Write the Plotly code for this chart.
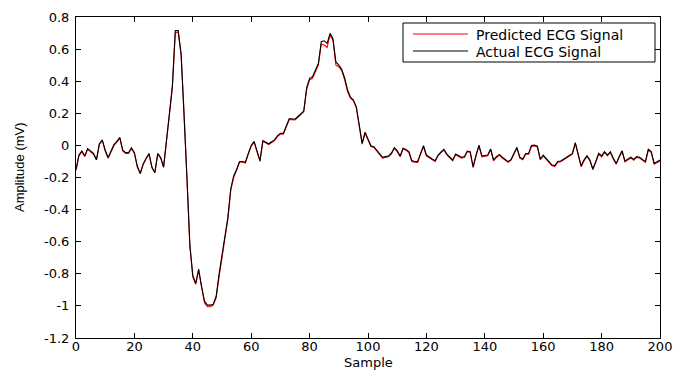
import plotly.graph_objects as go

# Sample index 0..200
samples = list(range(201))

actual = [
    -0.15, -0.06, -0.035, -0.065, -0.02, -0.035, -0.05, -0.09, 0.01, 0.035,
    -0.03, -0.075, -0.03, 0.005, 0.025, 0.05, -0.03, -0.045, -0.045, -0.015,
    -0.045, -0.13, -0.175, -0.115, -0.08, -0.05, -0.135, -0.17, -0.05, -0.075,
    -0.135, 0.02, 0.2, 0.37, 0.715, 0.715, 0.57, 0.22, -0.2, -0.62,
    -0.81, -0.86, -0.77, -0.88, -0.97, -0.995, -0.995, -0.99, -0.94, -0.8,
    -0.68, -0.56, -0.45, -0.27, -0.19, -0.15, -0.1, -0.1, -0.105, -0.05,
    0.0, 0.025, -0.03, -0.095, 0.03, 0.02, 0.01, 0.023, 0.034, 0.06,
    0.075, 0.075, 0.12, 0.165, 0.165, 0.163, 0.18, 0.2, 0.214, 0.36,
    0.418, 0.428, 0.47, 0.51, 0.646, 0.652, 0.636, 0.698, 0.665, 0.52,
    0.5, 0.474, 0.42, 0.345, 0.3, 0.283, 0.24, 0.127, 0.013, 0.082,
    0.04, -0.002, -0.008, -0.03, -0.05, -0.074, -0.07, -0.066, -0.049, -0.014,
    -0.033, -0.066, -0.018, -0.025, -0.039, -0.095, -0.1, -0.101, -0.05, -0.002,
    -0.06, -0.075, -0.085, -0.095, -0.06, -0.04, -0.024, -0.054, -0.075, -0.091,
    -0.054, -0.065, -0.074, -0.07, -0.035, -0.039, -0.133, -0.06, 0.002, -0.066,
    -0.065, -0.06, -0.022, -0.091, -0.07, -0.056, -0.074, -0.09, -0.101, -0.087,
    -0.05, -0.012, -0.074, -0.085, -0.05, -0.05, 0.0, 0.002, -0.005, -0.085,
    -0.06, -0.08, -0.1, -0.122, -0.126, -0.1, -0.097, -0.085, -0.074, -0.066,
    -0.05, 0.017, -0.049, -0.128, -0.09, -0.064, -0.091, -0.147, -0.1, -0.049,
    -0.066, -0.039, -0.06, -0.039, -0.08, -0.112, -0.07, -0.033, -0.097, -0.085,
    -0.074, -0.087, -0.07, -0.074, -0.09, -0.101, -0.024, -0.039, -0.112, -0.1,
    -0.091,
]

predicted = [
    -0.155, -0.065, -0.04, -0.07, -0.025, -0.04, -0.055, -0.09, 0.005, 0.03,
    -0.035, -0.08, -0.035, 0.0, 0.02, 0.045, -0.035, -0.05, -0.05, -0.02,
    -0.05, -0.135, -0.175, -0.12, -0.085, -0.055, -0.14, -0.17, -0.055, -0.08,
    -0.135, 0.015, 0.19, 0.36, 0.7, 0.705, 0.56, 0.21, -0.21, -0.63,
    -0.82, -0.865, -0.78, -0.89, -0.98, -1.005, -1.005, -0.995, -0.95, -0.82,
    -0.7, -0.58, -0.46, -0.28, -0.2, -0.155, -0.105, -0.105, -0.11, -0.055,
    -0.005, 0.02, -0.035, -0.1, 0.025, 0.015, 0.005, 0.018, 0.03, 0.055,
    0.07, 0.07, 0.115, 0.16, 0.16, 0.158, 0.175, 0.195, 0.21, 0.35,
    0.408, 0.418, 0.46, 0.5, 0.63, 0.625, 0.61, 0.69, 0.655, 0.5,
    0.49, 0.465, 0.41, 0.335, 0.295, 0.278, 0.235, 0.12, 0.008, 0.077,
    0.035, -0.007, -0.013, -0.035, -0.055, -0.079, -0.075, -0.071, -0.054, -0.019,
    -0.038, -0.071, -0.023, -0.03, -0.044, -0.1, -0.105, -0.106, -0.055, -0.007,
    -0.065, -0.08, -0.09, -0.1, -0.065, -0.045, -0.029, -0.059, -0.08, -0.096,
    -0.059, -0.07, -0.079, -0.075, -0.04, -0.044, -0.138, -0.065, -0.003, -0.071,
    -0.07, -0.065, -0.027, -0.096, -0.075, -0.061, -0.079, -0.095, -0.106, -0.092,
    -0.055, -0.017, -0.079, -0.09, -0.055, -0.055, -0.005, -0.003, -0.01, -0.09,
    -0.065, -0.085, -0.105, -0.127, -0.131, -0.105, -0.102, -0.09, -0.079, -0.071,
    -0.055, 0.012, -0.054, -0.133, -0.095, -0.069, -0.096, -0.152, -0.105, -0.054,
    -0.071, -0.044, -0.065, -0.044, -0.085, -0.117, -0.075, -0.038, -0.102, -0.09,
    -0.079, -0.092, -0.075, -0.079, -0.095, -0.106, -0.029, -0.044, -0.117, -0.105,
    -0.096,
]

series_names = ["Predicted ECG Signal", "Actual ECG Signal"]
series_colors = ["#ff0000", "#000000"]

x_ticks = [0, 20, 40, 60, 80, 100, 120, 140, 160, 180, 200]
y_ticks = [-1.2, -1.0, -0.8, -0.6, -0.4, -0.2, 0.0, 0.2, 0.4, 0.6, 0.8]
y_tick_text = ["-1.2", "-1", "-0.8", "-0.6", "-0.4", "-0.2", "0", "0.2", "0.4", "0.6", "0.8"]

fig = go.Figure()
for vals, name, col in zip([predicted, actual], series_names, series_colors):
    fig.add_trace(go.Scatter(x=samples, y=vals, mode="lines",
                             line=dict(color=col, width=1.1), name=name,
                             showlegend=False))

wide_font = "DejaVu Sans, Verdana, sans-serif"
plain_font = "Liberation Sans, Arial, sans-serif"

# Plot area in pixels: x 76..660, y 17..338
L, R, T, B = 76, 16, 17, 33
W, H = 676, 371
pw, ph = W - L - R, H - T - B

def px(xp):
    return (xp - L) / pw

def py(yp):
    return 1 - (yp - T) / ph

shapes = []
annotations = []
# Legend box (MATLAB style)
shapes.append(dict(type="rect", xref="paper", yref="paper",
                   x0=px(403), x1=px(655), y0=py(62), y1=py(23),
                   line=dict(color="black", width=1), fillcolor="white", layer="above"))
row_y = [35, 52]
for name, col, ry in zip(series_names, series_colors, row_y):
    shapes.append(dict(type="line", xref="paper", yref="paper",
                       x0=px(413), x1=px(468), y0=py(ry - 1), y1=py(ry - 1),
                       line=dict(color=col, width=1.1), layer="above"))
    annotations.append(dict(text=name, xref="paper", yref="paper",
                            x=px(474), y=py(ry), xanchor="left", yanchor="middle",
                            showarrow=False, font=dict(family=wide_font, size=14, color="black")))

# Axis titles
annotations.append(dict(text="Sample", xref="paper", yref="paper",
                        x=px(368), y=py(363), xanchor="center", yanchor="middle",
                        showarrow=False, font=dict(family=wide_font, size=13, color="black")))
annotations.append(dict(text="Amplitude (mV)", xref="paper", yref="paper",
                        x=px(19), y=py(167), xanchor="center", yanchor="middle",
                        textangle=-90, showarrow=False,
                        font=dict(family=plain_font, size=13, color="black")))

fig.update_layout(
    width=W, height=H,
    margin=dict(l=L, r=R, t=T, b=B, autoexpand=False),
    paper_bgcolor="white", plot_bgcolor="white",
    font=dict(family=wide_font, size=13, color="black"),
    showlegend=False,
    shapes=shapes, annotations=annotations,
)
fig.update_xaxes(
    range=[0, 200], tickvals=x_ticks, ticks="inside", ticklen=5,
    tickcolor="black", showline=True, linecolor="black", linewidth=1,
    mirror="allticks", showgrid=False, zeroline=False, automargin=False,
    tickfont=dict(size=13, family=wide_font), ticklabelstandoff=-4,
)
fig.update_yaxes(
    range=[-1.2, 0.8], tickvals=y_ticks, ticktext=y_tick_text,
    ticks="inside", ticklen=5, tickcolor="black",
    showline=True, linecolor="black", linewidth=1,
    mirror="allticks", showgrid=False, zeroline=False, automargin=False,
    tickfont=dict(size=13, family=wide_font), ticklabelstandoff=3,
)

fig.write_html("out.html")
